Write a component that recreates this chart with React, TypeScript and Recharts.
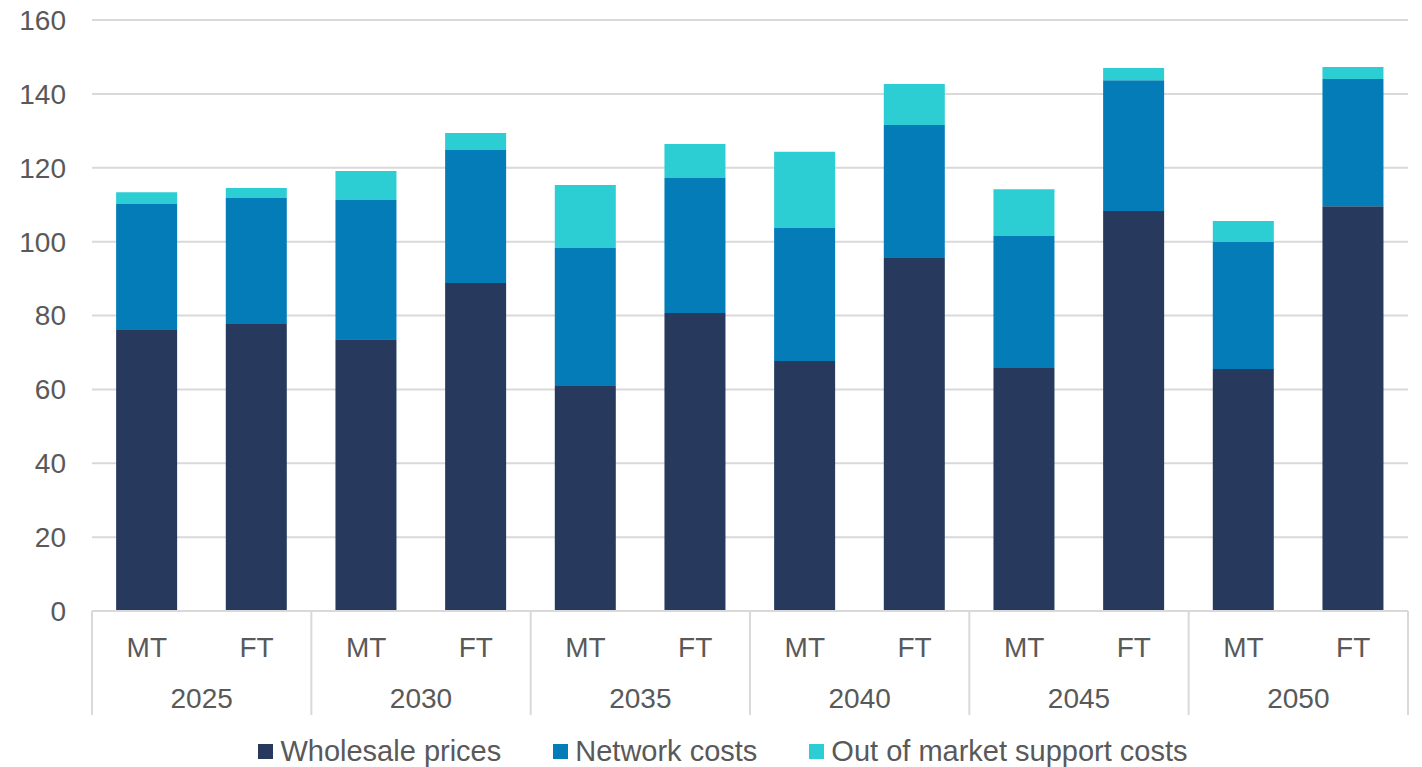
import { Bar, BarChart, CartesianGrid, Legend, XAxis, YAxis } from "recharts";

const YEARS = ["2025", "2030", "2035", "2040", "2045", "2050"];
const SCENARIOS = ["MT", "FT"];

const WHOLESALE = [76.1, 77.7, 73.6, 88.8, 60.9, 80.7, 67.7, 95.6, 65.8, 108.3, 65.5, 109.6];
const NETWORK = [34.1, 34.1, 37.7, 36.0, 37.4, 36.5, 36.0, 36.0, 35.7, 35.4, 34.4, 34.4];
const SUPPORT = [3.2, 2.7, 7.8, 4.6, 17.0, 9.2, 20.6, 11.1, 12.7, 3.3, 5.7, 3.3];

const Y_TICKS = [0, 20, 40, 60, 80, 100, 120, 140, 160];

const SERIES = [
  { key: "wholesale", name: "Wholesale prices", color: "#273a5d" },
  { key: "network", name: "Network costs", color: "#037cb8" },
  { key: "support", name: "Out of market support costs", color: "#2ccdd3" },
];

const data = YEARS.flatMap((year, yi) =>
  SCENARIOS.map((sc, si) => {
    const i = yi * SCENARIOS.length + si;
    return {
      key: `${year}-${sc}`,
      year,
      scenario: sc,
      wholesale: WHOLESALE[i],
      network: NETWORK[i],
      support: SUPPORT[i],
    };
  })
);

const CHART_W = 1422;
const CHART_H = 767;
const MARGIN = { top: 20, right: 14, bottom: 0, left: 0 };
const Y_AXIS_W = 92;
const BAND = (CHART_W - MARGIN.left - MARGIN.right - Y_AXIS_W) / data.length;
const TEXT = "#595959";
const LINE = "#d9d9d9";
const FONT = "'Liberation Sans', Arial, sans-serif";
const FS = 28;

function GroupTick(props: any) {
  const { x, y, payload } = props;
  const row = data[payload.index];
  const isFirst = payload.index % SCENARIOS.length === 0;
  const isLast = payload.index === data.length - 1;
  return (
    <g>
      <text
        x={x}
        y={y + 36}
        textAnchor="middle"
        dominantBaseline="central"
        fontSize={FS}
        fill={TEXT}
        fontFamily={FONT}
      >
        {row.scenario}
      </text>
      {isFirst && (
        <>
          <line x1={x - BAND / 2} x2={x - BAND / 2} y1={y} y2={y + 104} stroke={LINE} strokeWidth={2} />
          <text
            x={x + BAND / 2}
            y={y + 87}
            textAnchor="middle"
            dominantBaseline="central"
            fontSize={FS}
            fill={TEXT}
            fontFamily={FONT}
          >
            {row.year}
          </text>
        </>
      )}
      {isLast && (
        <line x1={x + BAND / 2} x2={x + BAND / 2} y1={y} y2={y + 104} stroke={LINE} strokeWidth={2} />
      )}
    </g>
  );
}

function LegendContent() {
  return (
    <div
      style={{
        height: 36,
        boxSizing: "border-box",
        display: "flex",
        justifyContent: "center",
        alignItems: "center",
        gap: 52,
        fontFamily: FONT,
        fontSize: 29,
        lineHeight: "32px",
        color: TEXT,
        paddingLeft: 38,
        paddingTop: 4,
      }}
    >
      {SERIES.map((s) => (
        <span key={s.key} style={{ display: "flex", alignItems: "center", gap: 7 }}>
          <span style={{ width: 15, height: 15, background: s.color, display: "inline-block" }} />
          {s.name}
        </span>
      ))}
    </div>
  );
}

export default function App() {
  return (
    <div style={{ position: "absolute", left: 0, top: 0, background: "#fff" }}>
      <BarChart width={CHART_W} height={CHART_H} data={data} margin={MARGIN} barCategoryGap="22%">
        <CartesianGrid vertical={false} stroke={LINE} strokeWidth={2} />
        <XAxis
          dataKey="key"
          interval={0}
          height={120}
          tickLine={false}
          tickSize={0}
          tickMargin={0}
          axisLine={{ stroke: LINE, strokeWidth: 2 }}
          tick={<GroupTick />}
        />
        <YAxis
          width={Y_AXIS_W}
          domain={[0, 160]}
          ticks={Y_TICKS}
          axisLine={false}
          tickLine={false}
          tickMargin={20}
          tick={{ fontSize: FS, fill: TEXT, fontFamily: FONT }}
        />
        <Legend verticalAlign="bottom" content={<LegendContent />} />
        {SERIES.map((s) => (
          <Bar key={s.key} dataKey={s.key} name={s.name} stackId="a" fill={s.color} isAnimationActive={false} />
        ))}
      </BarChart>
    </div>
  );
}
